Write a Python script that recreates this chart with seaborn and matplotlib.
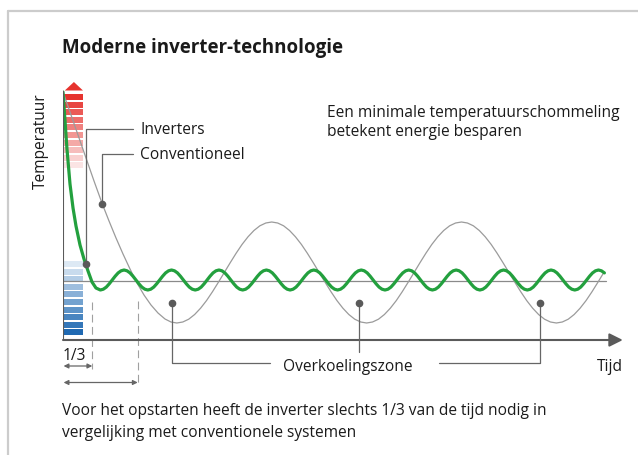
"""
Moderne inverter-technologie
Schematische grafiek: temperatuurverloop inverter vs. conventioneel systeem.
"""
import matplotlib
matplotlib.use("Agg")
import matplotlib.pyplot as plt
import seaborn as sns
import pandas as pd
from matplotlib.lines import Line2D
from matplotlib.patches import Polygon

# ── data (tijd: 8 eenheden per inverter-cyclus, temperatuur in willekeurige eenheden) ──
inverter_tijd = [
    0.0, 0.34, 0.67, 1.18, 1.69, 2.19, 2.87, 3.54, 4.22, 4.89, 5.56,
    6.3, 6.8, 7.3, 7.8, 8.3, 8.8, 9.3, 9.8, 10.3, 10.8, 11.3, 11.8, 12.3, 12.8, 13.3, 13.8,
    14.3, 14.8, 15.3, 15.8, 16.3, 16.8, 17.3, 17.8, 18.3, 18.8, 19.3, 19.8, 20.3, 20.8, 21.3, 21.8,
    22.3, 22.8, 23.3, 23.8, 24.3, 24.8, 25.3, 25.8, 26.3, 26.8, 27.3, 27.8, 28.3, 28.8, 29.3, 29.8,
    30.3, 30.8, 31.3, 31.8, 32.3, 32.8, 33.3, 33.8, 34.3, 34.8, 35.3, 35.8, 36.3, 36.8, 37.3, 37.8,
    38.3, 38.8, 39.3, 39.8, 40.3, 40.8, 41.3, 41.8, 42.3, 42.8, 43.3, 43.8, 44.3, 44.8, 45.3, 45.8,
    46.3, 46.8, 47.3, 47.8, 48.3, 48.8, 49.3, 49.8, 50.3, 50.8, 51.3, 51.8, 52.3, 52.8, 53.3, 53.8,
    54.3, 54.8, 55.3, 55.8, 56.3, 56.8, 57.3, 57.8, 58.3, 58.8, 59.3, 59.8, 60.3, 60.8, 61.3, 61.8,
    62.3, 62.8, 63.3, 63.8, 64.3, 64.8, 65.3, 65.8, 66.3, 66.8, 67.3, 67.8, 68.3, 68.8, 69.3, 69.8,
    70.3, 70.8, 71.3, 71.8, 72.3, 72.8, 73.3, 73.8, 74.3, 74.8, 75.3, 75.8, 76.3, 76.8, 77.3, 77.8,
    78.3, 78.8, 79.3, 79.8, 80.3, 80.8, 81.3, 81.8, 82.3, 82.8, 83.3, 83.8, 84.3, 84.8, 85.3, 85.8,
    86.3, 86.8, 87.3, 87.8, 88.3, 88.8, 89.3, 89.8, 90.3, 90.8, 91.3,
]
inverter_temp = [
    24.8, 21.9, 19.1, 15.6, 13.2, 11.4, 9.5, 8.1, 6.9, 5.8, 5.2,
    5.0, 5.08, 5.29, 5.62, 6.0, 6.38, 6.71, 6.92, 7.0, 6.92, 6.71, 6.38, 6.0, 5.62, 5.29, 5.08,
    5.0, 5.08, 5.29, 5.62, 6.0, 6.38, 6.71, 6.92, 7.0, 6.92, 6.71, 6.38, 6.0, 5.62, 5.29, 5.08,
    5.0, 5.08, 5.29, 5.62, 6.0, 6.38, 6.71, 6.92, 7.0, 6.92, 6.71, 6.38, 6.0, 5.62, 5.29, 5.08,
    5.0, 5.08, 5.29, 5.62, 6.0, 6.38, 6.71, 6.92, 7.0, 6.92, 6.71, 6.38, 6.0, 5.62, 5.29, 5.08,
    5.0, 5.08, 5.29, 5.62, 6.0, 6.38, 6.71, 6.92, 7.0, 6.92, 6.71, 6.38, 6.0, 5.62, 5.29, 5.08,
    5.0, 5.08, 5.29, 5.62, 6.0, 6.38, 6.71, 6.92, 7.0, 6.92, 6.71, 6.38, 6.0, 5.62, 5.29, 5.08,
    5.0, 5.08, 5.29, 5.62, 6.0, 6.38, 6.71, 6.92, 7.0, 6.92, 6.71, 6.38, 6.0, 5.62, 5.29, 5.08,
    5.0, 5.08, 5.29, 5.62, 6.0, 6.38, 6.71, 6.92, 7.0, 6.92, 6.71, 6.38, 6.0, 5.62, 5.29, 5.08,
    5.0, 5.08, 5.29, 5.62, 6.0, 6.38, 6.71, 6.92, 7.0, 6.92, 6.71, 6.38, 6.0, 5.62, 5.29, 5.08,
    5.0, 5.08, 5.29, 5.62, 6.0, 6.38, 6.71, 6.92, 7.0, 6.92, 6.71, 6.38, 6.0, 5.62, 5.29, 5.08,
    5.0, 5.08, 5.29, 5.62, 6.0, 6.38, 6.71, 6.92, 7.0, 6.92, 6.71,
]
conventioneel_tijd = [
    0.0, 1.18, 2.53, 3.88, 5.23, 6.63, 7.76, 8.94,
    10.12, 11.3, 12.48, 13.66, 14.84, 16.02, 17.2, 18.21,
    19.2, 20.2, 21.2, 22.2, 23.2, 24.2, 25.2, 26.2, 27.2, 28.2, 29.2, 30.2, 31.2, 32.2, 33.2, 34.2,
    35.2, 36.2, 37.2, 38.2, 39.2, 40.2, 41.2, 42.2, 43.2, 44.2, 45.2, 46.2, 47.2, 48.2, 49.2, 50.2,
    51.2, 52.2, 53.2, 54.2, 55.2, 56.2, 57.2, 58.2, 59.2, 60.2, 61.2, 62.2, 63.2, 64.2, 65.2, 66.2,
    67.2, 68.2, 69.2, 70.2, 71.2, 72.2, 73.2, 74.2, 75.2, 76.2, 77.2, 78.2, 79.2, 80.2, 81.2, 82.2,
    83.2, 84.2, 85.2, 86.2, 87.2, 88.2, 89.2, 90.2, 91.2,
]
conventioneel_temp = [
    24.8, 22.8, 20.5, 18.2, 15.9, 13.6, 11.9, 10.2,
    8.6, 7.1, 5.7, 4.5, 3.5, 2.7, 2.1, 1.8,
    1.7, 1.8, 2.08, 2.55, 3.18, 3.94, 4.82, 5.77, 6.75, 7.73, 8.68, 9.56, 10.32, 10.95, 11.42, 11.7,
    11.8, 11.7, 11.42, 10.95, 10.32, 9.56, 8.68, 7.73, 6.75, 5.77, 4.82, 3.94, 3.18, 2.55, 2.08, 1.8,
    1.7, 1.8, 2.08, 2.55, 3.18, 3.94, 4.82, 5.77, 6.75, 7.73, 8.68, 9.56, 10.32, 10.95, 11.42, 11.7,
    11.8, 11.7, 11.42, 10.95, 10.32, 9.56, 8.68, 7.73, 6.75, 5.77, 4.82, 3.94, 3.18, 2.55, 2.08, 1.8,
    1.7, 1.8, 2.08, 2.55, 3.18, 3.94, 4.82, 5.77, 6.75,
]
setpoint_tijd = [0.0, 91.6]
setpoint_temp = [5.9, 5.9]

# ankerpunten van de labels
label_namen = ["Inverters", "Conventioneel"]
label_tijd = [3.88, 6.63]
label_temp = [7.6, 13.6]
overkoeling_tijd = [18.4, 49.9, 80.4]
overkoeling_temp = [3.7, 3.7, 3.7]
opstart_tijd = [4.94, 12.6]   # inverter, conventioneel

rood = sns.blend_palette(["#e6332e", "#fbe4e4"], 10)
blauw = sns.blend_palette(["#dde9f4", "#1f69b2"], 10)

W, H = 638, 456
X_PX, Y_PX = 5.93, 10.0   # pixels per tijd- / temperatuureenheid

sns.set_theme(style="white")
plt.rcParams["font.family"] = ["Open Sans", "DejaVu Sans"]

fig = plt.figure(figsize=(W / 100, H / 100), dpi=100)
ax = fig.add_axes([63 / W, (H - 341) / H, (623 - 63) / W, (341 - 83) / H])
ax.set_xlim(0, (623 - 63) / X_PX)
ax.set_ylim(0, (341 - 83) / Y_PX)
ax.axis("off")


def fpx(x, y):
    """pixelpositie -> figuurcoördinaten"""
    return x / W, 1 - y / H


GRIJS = "#5a5a5a"
LEIDER = dict(color="#666666", lw=0.9, clip_on=False, zorder=4)

# ── temperatuurschaal (rood boven, blauw onder) ──
for i, c in enumerate(rood):
    top = 24.6 - 0.76 * i
    ax.barh(top - 0.3, 3.2, left=0.17, height=0.6, color=c, lw=0, zorder=1)
for i, c in enumerate(blauw):
    top = 7.9 - 0.76 * i
    ax.barh(top - 0.3, 3.2, left=0.17, height=0.6, color=c, lw=0, zorder=1)
ax.add_patch(Polygon([[0.3, 24.95], [3.37, 24.95], [1.84, 25.8]],
                     closed=True, color=rood[0], lw=0, clip_on=False, zorder=1))

# ── assen ──
ax.plot([0, 0], [0, 24.9], color=GRIJS, lw=1.5, zorder=5, solid_capstyle="butt")
ax.annotate("", xy=(94.4, 0), xytext=(0, 0), annotation_clip=False,
            arrowprops=dict(arrowstyle="-|>", color=GRIJS, lw=1.5,
                            mutation_scale=20, shrinkA=0, shrinkB=0))

# ── curven ──
ax.plot(setpoint_tijd, setpoint_temp, color="#8a8a8a", lw=0.9, zorder=2)
df_conv = pd.DataFrame({"tijd": conventioneel_tijd, "temp": conventioneel_temp})
df_inv = pd.DataFrame({"tijd": inverter_tijd, "temp": inverter_temp})
sns.lineplot(data=df_conv, x="tijd", y="temp", ax=ax, color="#9b9b9b",
             lw=0.9, estimator=None, sort=False, zorder=3)
sns.lineplot(data=df_inv, x="tijd", y="temp", ax=ax, color="#23a03e",
             lw=2.3, estimator=None, sort=False, zorder=4)

# ── labels Inverters / Conventioneel ──
label_hoogte = [21.1, 18.6]
for naam, t, y, h in zip(label_namen, label_tijd, label_temp, label_hoogte):
    ax.plot([t, t, 11.8], [y, h, h], **LEIDER)
    ax.plot(t, y, "o", ms=4.5, color=GRIJS, zorder=6)
    ax.text(13.0, h, naam, fontsize=11.2, va="center", ha="left", color="#1a1a1a")

# ── overkoelingszone ──
ax.plot(overkoeling_tijd, overkoeling_temp, "o", ms=4.5, color=GRIJS, zorder=6, clip_on=False)
ax.plot([overkoeling_tijd[0], overkoeling_tijd[0], 34.9], [3.7, -2.3, -2.3], **LEIDER)
ax.plot([overkoeling_tijd[1], overkoeling_tijd[1]], [3.7, -1.2], **LEIDER)
ax.plot([63.4, overkoeling_tijd[2], overkoeling_tijd[2]], [-2.3, -2.3, 3.7], **LEIDER)

# ── opstarttijd ──
ax.plot([opstart_tijd[0]] * 2, [3.8, -2.9], color="#a0a0a0", lw=0.8,
        dashes=(7, 4), clip_on=False, zorder=2)
ax.plot([opstart_tijd[1]] * 2, [3.9, -4.5], color="#a0a0a0", lw=0.8,
        dashes=(7, 4), clip_on=False, zorder=2)
for t, y in zip(opstart_tijd, [-2.6, -4.25]):
    ax.annotate("", xy=(t, y), xytext=(0.1, y), annotation_clip=False,
                arrowprops=dict(arrowstyle="<|-|>", color="#666666", lw=0.9,
                                mutation_scale=7, shrinkA=0, shrinkB=0))

# ── teksten ──
TXT = "#1a1a1a"
FS = 11.2
fig.text(*fpx(62, 53), "Moderne inverter-technologie", fontsize=13.5,
         fontweight="bold", color=TXT, va="baseline")
fig.text(*fpx(41, 141), "Temperatuur", fontsize=FS, rotation=90,
         ha="center", va="center", color=TXT)
fig.text(*fpx(327, 117), "Een minimale temperatuurschommeling", fontsize=FS,
         color=TXT, va="baseline")
fig.text(*fpx(327, 136), "betekent energie besparen", fontsize=FS,
         color=TXT, va="baseline")
fig.text(*fpx(348, 371), "Overkoelingszone", fontsize=FS, ha="center",
         color=TXT, va="baseline")
fig.text(*fpx(597, 371), "Tijd", fontsize=FS, color=TXT, va="baseline")
fig.text(*fpx(63, 360), "1/3", fontsize=FS, color=TXT, va="baseline")
fig.text(*fpx(62, 415), "Voor het opstarten heeft de inverter slechts 1/3 van de tijd nodig in",
         fontsize=FS, color=TXT, va="baseline")
fig.text(*fpx(62, 437), "vergelijking met conventionele systemen",
         fontsize=FS, color=TXT, va="baseline")

# ── kader ──
fig.add_artist(Line2D([8 / W, 1], [1 - 12 / H] * 2, transform=fig.transFigure,
                      color="#cccccc", lw=1.6))
fig.add_artist(Line2D([8 / W] * 2, [0, 1 - 12 / H], transform=fig.transFigure,
                      color="#cccccc", lw=1.6))

fig.savefig("out.png", dpi=100, facecolor="white")
plt.close(fig)
